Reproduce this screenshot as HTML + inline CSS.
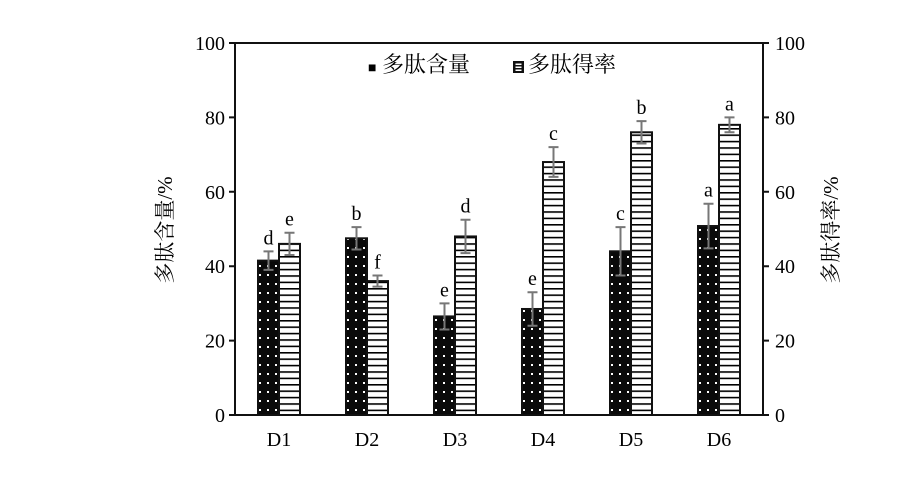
<!DOCTYPE html>
<html><head><meta charset="utf-8"><style>
body{margin:0;background:#fff}
svg text{font-family:"Liberation Serif","Noto Serif CJK SC",serif;fill:#000}
</style></head><body>
<svg width="904" height="472" xmlns="http://www.w3.org/2000/svg">
<defs>
<pattern id="dots" width="8" height="9" patternUnits="userSpaceOnUse"><rect width="8" height="9" fill="#0a0a0a"/><rect x="3" y="4" width="2" height="2" fill="#fff"/></pattern>
<pattern id="stripes" width="6" height="6.4" patternUnits="userSpaceOnUse"><rect width="6" height="6.4" fill="#fff"/><rect y="0" width="6" height="1.6" fill="#000"/></pattern>
</defs>
<g id="plot"></g>
<text x="368" y="72" font-size="22"><tspan font-family="Liberation Sans" font-size="14">■</tspan> 多肽含量</text>
<rect x="513" y="61" width="11" height="12" fill="#111"/>
<rect x="515.5" y="63.5" width="6" height="1.5" fill="#fff"/><rect x="515.5" y="66.5" width="6" height="1.5" fill="#fff"/><rect x="515.5" y="69.5" width="6" height="1.5" fill="#fff"/>
<text x="528" y="72" font-size="22">多肽得率</text>
<text transform="translate(172,230) rotate(-90)" text-anchor="middle" font-size="21">多肽含量/%</text>
<text transform="translate(838,230) rotate(-90)" text-anchor="middle" font-size="21">多肽得率/%</text>
</svg>
<script>
const categories=["D1","D2","D3","D4","D5","D6"];
const contentVals=[41.5,47.5,26.5,28.5,44,50.8];
const contentErr=[2.5,3,3.5,4.5,6.5,6];
const contentLetters=["d","b","e","e","c","a"];
const yieldVals=[46,36,48,68,76,78];
const yieldErr=[3,1.5,4.5,4,3,2];
const yieldLetters=["e","f","d","c","b","a"];
const ticks=[0,20,40,60,80,100];
const X0=235,X1=763,Y0=415,Y1=43;
const y=v=>Y0-(v/100)*(Y0-Y1);
const band=(X1-X0)/categories.length;
const cx=i=>X0+band*(i+0.5);
const g=document.getElementById('plot');
const NS="http://www.w3.org/2000/svg";
function mk(t,a){const e=document.createElementNS(NS,t);for(const k in a)e.setAttribute(k,a[k]);g.appendChild(e);return e;}
const bw=21;
categories.forEach((c,i)=>{
 const sets=[[contentVals,contentErr,contentLetters,cx(i)-bw,'url(#dots)','bar-content-'+c],[yieldVals,yieldErr,yieldLetters,cx(i),'url(#stripes)','bar-yield-'+c]];
 sets.forEach(([vals,errs,lets,x,fill,name])=>{
  const r=mk('rect',{x:x,y:y(vals[i]),width:bw,height:Y0-y(vals[i]),fill:fill,stroke:'#111','stroke-width':2});
  
  
  const m=x+bw/2,t=y(vals[i]+errs[i]),b=y(vals[i]-errs[i]);
  const e=mk('path',{d:`M${m},${t}V${b}M${m-5},${t}H${m+5}M${m-5},${b}H${m+5}`,stroke:'#777','stroke-width':2,fill:'none'});
  
  
  const l=mk('text',{x:m,y:t-7,'text-anchor':'middle','font-size':20});
  l.textContent=lets[i];
  
  
 });
 const xl=mk('text',{x:cx(i),y:446,'text-anchor':'middle','font-size':20});
 xl.textContent=c;
 
 
});
const frame=mk('rect',{x:X0,y:Y1,width:X1-X0,height:Y0-Y1,fill:'none',stroke:'#111','stroke-width':2});


ticks.forEach(t=>{
 mk('path',{d:`M${X0-6},${y(t)}H${X0}M${X1},${y(t)}H${X1+6}`,stroke:'#111','stroke-width':2});
 const a=mk('text',{x:X0-10,y:y(t)+7,'text-anchor':'end','font-size':20});
 a.textContent=t;
 
 
 const b=mk('text',{x:X1+12,y:y(t)+7,'font-size':20});
 b.textContent=t;
 
 
});
</script>
</body></html>
